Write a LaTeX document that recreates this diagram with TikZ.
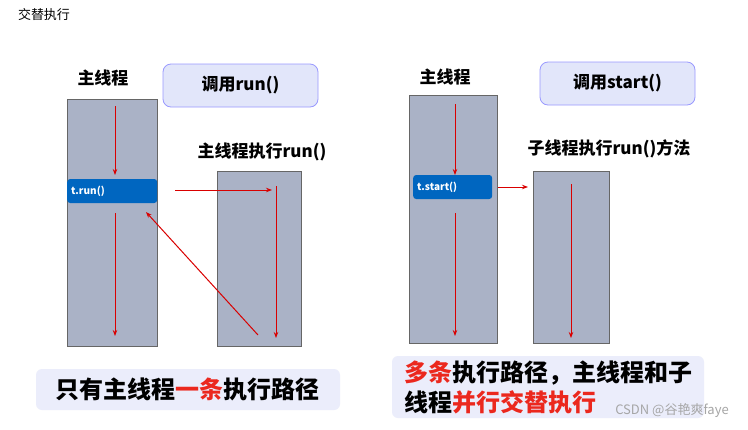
\documentclass[tikz,border=0pt]{standalone}
\usepackage{fontspec}
\setmainfont{Noto Sans CJK SC}
\usetikzlibrary{arrows.meta,positioning}
\definecolor{thread}{RGB}{170,178,198}
\definecolor{callblue}{RGB}{0,102,192}
\definecolor{hdr}{RGB}{226,230,250}
\definecolor{hred}{RGB}{235,40,30}
\tikzset{
  thread/.style={draw=gray!80!black,thick,fill=thread},
  call/.style={rounded corners=3pt,fill=callblue,text=white,font=\bfseries\fontsize{10}{12}\selectfont,anchor=west,minimum height=24pt,inner sep=4pt,align=left},
  hdrbox/.style={rounded corners=8pt,draw=blue!40,thick,fill=hdr,font=\bfseries\fontsize{17}{20}\selectfont},
  lbl/.style={font=\bfseries\fontsize{17}{20}\selectfont},
  banner/.style={rounded corners=6pt,fill=hdr!70,font=\bfseries\fontsize{24}{30}\selectfont},
  flow/.style={-{Stealth[length=6pt]},red!85!black,line width=1pt}
}
\begin{document}
\begin{tikzpicture}[x=1pt,y=-1pt]
  \useasboundingbox[fill=white] (0,0) rectangle (748,429);
  \node (title) at (44,15) {\fontsize{13}{15}\selectfont 交替执行};
  % left: run()
  \node[thread,minimum width=90pt,minimum height=247pt] (mainA) at (112,222.5) {};
  \node[thread,minimum width=84pt,minimum height=175pt] (subA) at (259,258.5) {};
  \node[call,text width=82pt] (runA) at (67,191) {t.run()};
  \node[lbl] (lblA) at (103,78) {主线程};
  \node[hdrbox,minimum width=155pt,minimum height=43pt] (hdrA) at (240.5,85.5) {调用run()};
  \node[lbl] (subAlbl) at (262,152) {主线程执行run()};
  \coordinate (a1) at (115,106); \coordinate (a2) at (115,175);
  \coordinate (a3) at (115,213); \coordinate (a4) at (115,336);
  \coordinate (a5) at (175,190); \coordinate (a6) at (272,190);
  \coordinate (a7) at (276,186); \coordinate (a8) at (276,338);
  \coordinate (a9) at (258,335); \coordinate (a10) at (146,212);
  \draw[flow] (a1) -- (a2);
  \draw[flow] (a3) -- (a4);
  \draw[flow] (a5) -- (a6);
  \draw[flow] (a7) -- (a8);
  \draw[flow] (a9) -- (a10);
  \node[banner,minimum width=304pt,minimum height=41pt] (banA) at (188,389.5)
    {只有主线程\textcolor{hred}{一条}执行路径};
  % right: start()
  \node[thread,minimum width=88pt,minimum height=248pt] (mainB) at (453,219) {};
  \node[thread,minimum width=76pt,minimum height=172pt] (subB) at (571,257) {};
  \node[call,text width=71pt] (startB) at (413,187) {t.start()};
  \node[lbl] (lblB) at (445,77) {主线程};
  \node[hdrbox,minimum width=155pt,minimum height=43pt] (hdrB) at (617.5,83.5) {调用start()};
  \node[lbl] (subBlbl) at (609,149) {子线程执行run()方法};
  \coordinate (b1) at (455,104); \coordinate (b2) at (455,175);
  \coordinate (b3) at (455,213); \coordinate (b4) at (455,336);
  \coordinate (b5) at (498,187); \coordinate (b6) at (528,187);
  \coordinate (b7) at (571,184); \coordinate (b8) at (571,338);
  \draw[flow] (b1) -- (b2);
  \draw[flow] (b3) -- (b4);
  \draw[flow] (b5) -- (b6);
  \draw[flow] (b7) -- (b8);
  \node[banner,align=left,minimum width=312pt,minimum height=62pt] (banB) at (548,387)
    {\textcolor{hred}{多条}执行路径，主线程和子\\线程\textcolor{hred}{并行交替执行}};
  \node[text=gray!70,font=\fontsize{13}{15}\selectfont] (mark) at (672,410) {CSDN @谷艳爽faye};
\end{tikzpicture}
\end{document}
